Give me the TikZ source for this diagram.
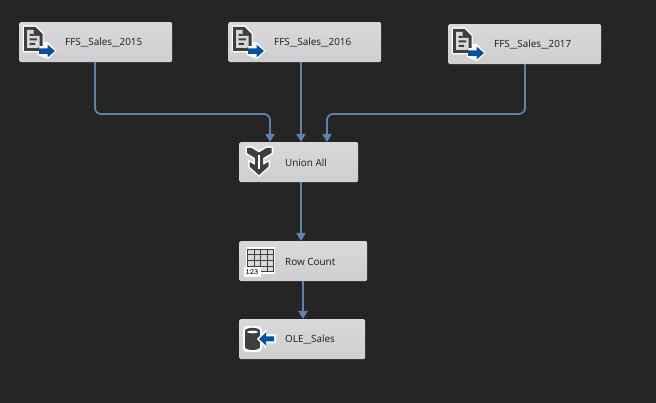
\documentclass[tikz,border=0pt]{standalone}
\usepackage{fontspec}
\usepackage{graphicx}
\setmainfont{Open Sans}
\usetikzlibrary{arrows.meta,calc}
\definecolor{bgc}{HTML}{252526}
\definecolor{boxtop}{HTML}{D9D9DB}
\definecolor{boxbot}{HTML}{CECED1}
\definecolor{linkc}{HTML}{5F82AE}
\definecolor{dark}{HTML}{3F3F3F}
\definecolor{bluea}{HTML}{00539C}
\newcommand{\usc}{\scalebox{1.7}[1]{\_}}
\tikzset{
  x=1pt,y=-1pt,
  task/.style={anchor=north west,rounded corners=1.5pt,top color=boxtop,bottom color=boxbot,minimum height=40pt,inner sep=0pt},
  lbl/.style={anchor=west,inner sep=0pt,font=\fontsize{9.9pt}{11pt}\selectfont,text=black!90},
  link/.style={draw=linkc,line width=1.8pt,rounded corners=6pt,-{Triangle[width=9pt,length=8pt]}},
  pics/srcicon/.style={code={
    \fill[white] (3.5,3.5)--(17,3.5)--(24.5,11)--(24.5,20)--(29,20.5)--(37.5,29)--(29,37)--(19,33)--(19,30.5)--(3.5,30.5)--cycle;
    \fill[dark] (5,5)--(16.5,5)--(23.5,12)--(23.5,24)--(20,24)--(20,29)--(5,29)--cycle;
    \fill[boxtop] (8,8)--(14.5,8)--(14.5,14)--(20.5,14)--(20.5,24)--(19,26)--(8,26)--cycle;
    \fill[dark] (10.5,12)rectangle(14.5,14) (10.5,16.5)rectangle(18,18.5) (10.5,21)rectangle(16,23);
    \fill[bluea] (20,26.5)--(28.5,26.5)--(28.5,22.5)--(36,29)--(28.5,35.5)--(28.5,32)--(20,32)--cycle;
  }},
  pics/unionicon/.style={code={
    \fill[white] (6.5,4.5)--(13,4.5)--(20,8.5)--(27,4.5)--(34,4.5)--(34,12)--(25.5,17)--(25.5,20)--(31,18)--(31,25)--(20,35)--(9,25)--(9,18)--(14.5,20)--(14.5,17)--(6.5,12)--cycle;
    \fill[dark] (8,6)--(12.5,6)--(20,10.5)--(27.5,6)--(32.5,6)--(32.5,11)--(24,16)--(24,23)--(29.5,20)--(29.5,24.5)--(20,33)--(10.5,24.5)--(10.5,20)--(16,23)--(16,16)--(8,11)--cycle;
    \fill[white] (19.2,13) rectangle (20.8,27);
  }},
  pics/counticon/.style={code={
    \fill[white] (6.5,6) rectangle (36,33);
    \fill[boxtop] (8.3,8.3) rectangle (34,31);
    \draw[dark,line width=1pt] (8.3,8.3) rectangle (34,31);
    \foreach \gx in {15,21.5,28} \draw[dark,line width=1pt] (\gx,8.3)--(\gx,31);
    \foreach \gy in {14,20,26} \draw[dark,line width=1pt] (8.3,\gy)--(34,\gy);
    \fill[white] (4.5,26) rectangle (21.5,36.5);
    \node[font=\ttfamily\bfseries\fontsize{8pt}{8pt}\selectfont,text=black,inner sep=0pt] at (13,31.5) {123};
  }},
  pics/desticon/.style={code={
    \fill[white,rounded corners=4pt] (4,7) rectangle (23,33);
    \fill[dark] (6,12) rectangle (21,28);
    \fill[dark] (13.5,28) ellipse [x radius=7.5,y radius=3];
    \fill[dark] (13.5,12) ellipse [x radius=7.5,y radius=3.2];
    \fill[white] (13.5,13) ellipse [x radius=5.5,y radius=1.3];
    \fill[white] (18,20)--(27,10.5)--(27,15.5)--(37,15.5)--(37,24.5)--(27,24.5)--(27,29.5)--cycle;
    \fill[bluea] (20,20)--(27,13.5)--(27,17.5)--(35,17.5)--(35,22.5)--(27,22.5)--(27,26.5)--cycle;
  }}
}
\begin{document}
\begin{tikzpicture}
\useasboundingbox (0,0) rectangle (656,403);
\fill[bgc] (0,0) rectangle (656,403);
\node[task,minimum width=153pt] (s15) at (19,22) {};
\node[task,minimum width=153pt] (s16) at (228,22) {};
\node[task,minimum width=153pt] (s17) at (448,24) {};
\node[task,minimum width=119pt] (un) at (239,142) {};
\node[task,minimum width=128pt] (rc) at (239,241) {};
\node[task,minimum width=126pt] (ole) at (239,319) {};
\node[lbl] (t15) at (65,42.5) {FFS\usc Sales\usc 2015};
\node[lbl] (t16) at (274,42.5) {FFS\usc Sales\usc 2016};
\node[lbl] (t17) at (494,44.5) {FFS\usc Sales\usc 2017};
\node[lbl] (tun) at (285,162.5) {Union All};
\node[lbl] (trc) at (285,261.5) {Row Count};
\node[lbl] (tol) at (285,339.5) {OLE\usc Sales};
\pic at (19,22) {srcicon};
\pic at (228,22) {srcicon};
\pic at (448,24) {srcicon};
\pic at (239,142) {unionicon};
\pic at (239,241) {counticon};
\pic at (239,319) {desticon};
\coordinate (a15) at (95,62);
\coordinate (b15) at (270,142);
\coordinate (a16) at (301,62);
\coordinate (b16) at (301,142);
\coordinate (a17) at (525,64);
\coordinate (b17) at (327,142);
\coordinate (aun) at (301,182);
\coordinate (brc) at (301,241);
\coordinate (arc) at (303,281);
\coordinate (bol) at (303,319);
\draw[link] (a15) |- (170,114) -| (b15);
\draw[link] (a16) -- (b16);
\draw[link] (a17) |- (400,114) -| (b17);
\draw[link] (aun) -- (brc);
\draw[link] (arc) -- (bol);
\end{tikzpicture}
\end{document}
